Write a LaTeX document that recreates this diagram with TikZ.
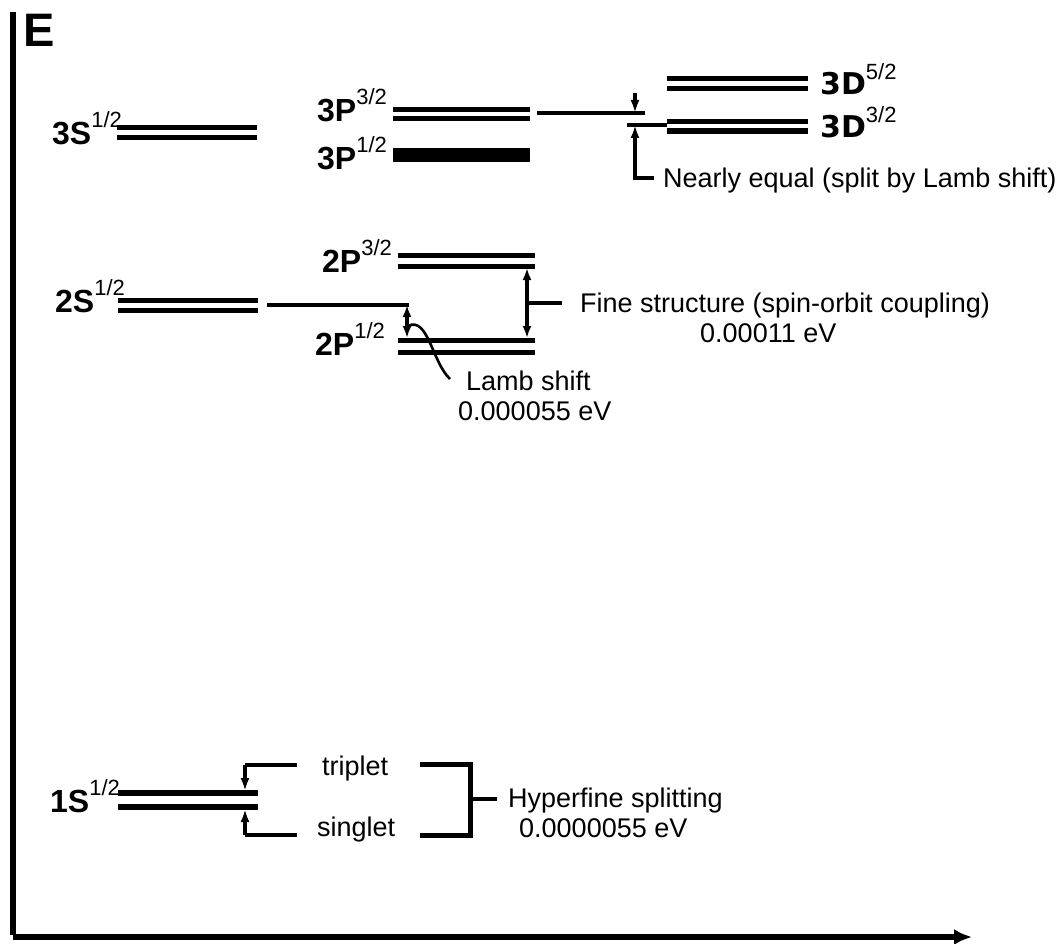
\documentclass[tikz,border=0pt]{standalone}
\usepackage{fontspec}
\setmainfont{Liberation Sans}
\newfontfamily\djsans{DejaVu Sans}
\usetikzlibrary{arrows.meta}
\newcommand\levlab[2]{{\fontsize{32}{32}\selectfont\bfseries #1}\raisebox{17pt}{\fontsize{22}{22}\selectfont #2}}
\newcommand\dlevlab[2]{{\djsans\fontsize{30}{30}\selectfont\bfseries #1}\raisebox{15pt}{\fontsize{22}{22}\selectfont #2}}
\begin{document}
\begin{tikzpicture}[x=1pt,y=-1pt,
  level/.style={line width=5pt},
  conn/.style={line width=3.8pt},
  thin conn/.style={line width=3.2pt},
  tip/.style={-{Latex[length=13pt,width=9pt]}},
  bitip/.style={{Latex[length=12pt,width=9pt]}-{Latex[length=12pt,width=9pt]}},
  lbl/.style={font=\fontsize{27}{30}\selectfont, inner sep=0pt, anchor=base west},
  slbl/.style={inner sep=0pt, anchor=base west}]
\useasboundingbox (0,0) rectangle (1062,944);
% axes
\coordinate (ytop) at (13,12);
\coordinate (orig) at (13,937);
\coordinate (xend) at (972,937);
\draw[line width=5.5pt] (ytop) -- ([yshift=2.5pt]orig);
\draw[line width=5.5pt,-{Latex[length=18pt,width=16pt]}] (orig) -- (xend);
\node[slbl] (E) at (23,47) {\fontsize{47}{47}\selectfont\bfseries E};
% ---- n = 3 ----
\node[slbl] (l3S) at (52,145) {\levlab{3S}{1/2}};
\coordinate (s3a) at (117,128); \coordinate (s3b) at (257,128);
\coordinate (s3c) at (117,138); \coordinate (s3d) at (257,138);
\draw[level] (s3a) -- (s3b); \draw[level] (s3c) -- (s3d);

\node[slbl] (l3P3) at (317,122) {\levlab{3P}{3/2}};
\coordinate (p33a) at (393,110); \coordinate (p33b) at (530,110);
\coordinate (p33c) at (393,119); \coordinate (p33d) at (530,119);
\draw[level] (p33a) -- (p33b); \draw[level] (p33c) -- (p33d);

\node[slbl] (l3P1) at (317,170) {\levlab{3P}{1/2}};
\coordinate (p31a) at (393,155); \coordinate (p31b) at (530,155);
\draw[line width=14pt] (p31a) -- (p31b);

\node[slbl] (l3D5) at (820,95) {\dlevlab{3D}{5/2}};
\coordinate (d35a) at (667,79); \coordinate (d35b) at (808,79);
\coordinate (d35c) at (667,89); \coordinate (d35d) at (808,89);
\draw[level] (d35a) -- (d35b); \draw[level] (d35c) -- (d35d);

\node[slbl] (l3D3) at (820,138) {\dlevlab{3D}{3/2}};
\coordinate (d33a) at (667,122); \coordinate (d33b) at (808,122);
\coordinate (d33c) at (667,131); \coordinate (d33d) at (808,131);
\draw[level] (d33a) -- (d33b); \draw[level,line width=6.5pt] (d33c) -- (d33d);

% nearly equal bracket
\coordinate (ne0) at (537,113); \coordinate (ne1) at (645,113);
\coordinate (neTop) at (635,93); \coordinate (neMid) at (635,113);
\coordinate (neT1) at (627,125); \coordinate (neT2) at (667,125);
\coordinate (neBot) at (635,178); \coordinate (neEnd) at (652,178);
\draw[thin conn] (ne0) -- (ne1);
\draw[thin conn,tip] (neTop) -- (neMid);
\draw[thin conn] (neT1) -- (neT2);
\draw[conn,tip] (neBot) -- (neT1 -| neBot);
\draw[conn,line cap=rect] (neBot) -- (neEnd);
\node[lbl] (neq) at (663,188) {Nearly equal (split by Lamb shift)};

% ---- n = 2 ----
\node[slbl] (l2S) at (55,312) {\levlab{2S}{1/2}};
\coordinate (s2a) at (118,300); \coordinate (s2b) at (258,300);
\coordinate (s2c) at (118,310); \coordinate (s2d) at (258,310);
\draw[level] (s2a) -- (s2b); \draw[level] (s2c) -- (s2d);

\node[slbl] (l2P3) at (322,272) {\levlab{2P}{3/2}};
\coordinate (p23a) at (398,255); \coordinate (p23b) at (535,255);
\coordinate (p23c) at (398,266); \coordinate (p23d) at (535,266);
\draw[level] (p23a) -- (p23b); \draw[level] (p23c) -- (p23d);

\node[slbl] (l2P1) at (315,355) {\levlab{2P}{1/2}};
\coordinate (p21a) at (398,340); \coordinate (p21b) at (535,340);
\coordinate (p21c) at (398,352); \coordinate (p21d) at (535,352);
\draw[level] (p21a) -- (p21b); \draw[level] (p21c) -- (p21d);

% Lamb shift
\coordinate (ls0) at (267,305); \coordinate (ls1) at (409,305);
\coordinate (lsT) at (407,305); \coordinate (lsB) at (407,338);
\draw[thin conn] (ls0) -- (ls1);
\draw[conn,bitip] (lsT) -- (lsB);
\coordinate (lc0) at (408,326); \coordinate (lc1) at (450,379);
\draw[line width=2.6pt] (lc0) .. controls (428,316) and (432,362) .. (lc1);
\node[lbl] (lamb) at (466,390) {Lamb shift};
\node[lbl] (lambv) at (458,420) {0.000055 eV};

% fine structure
\coordinate (fsT) at (527,268); \coordinate (fsB) at (527,338);
\coordinate (fsM) at (527,303); \coordinate (fsE) at (562,303);
\draw[conn,bitip] (fsT) -- (fsB);
\draw[thin conn] (fsM) -- (fsE);
\node[lbl] (fine) at (580,312) {Fine structure (spin-orbit coupling)};
\node[lbl] (finev) at (700,342) {0.00011 eV};

% ---- n = 1 ----
\node[slbl] (l1S) at (50,812) {\levlab{1S}{1/2}};
\coordinate (s1a) at (118,793); \coordinate (s1b) at (258,793);
\coordinate (s1c) at (118,807); \coordinate (s1d) at (258,807);
\draw[line width=6pt] (s1a) -- (s1b); \draw[line width=6pt] (s1c) -- (s1d);

\coordinate (hT) at (245,765); \coordinate (hTe) at (297,765);
\coordinate (hB) at (245,835); \coordinate (hBe) at (297,835);
\draw[conn] (hTe) -- (hT);
\draw[conn,tip] (hT) -- (245,791);
\draw[conn] (hBe) -- (hB);
\draw[conn,tip] (hB) -- (245,809);
\node[lbl] (trip) at (322,775) {triplet};
\node[lbl] (sing) at (317,836) {singlet};

\coordinate (bT) at (420,764); \coordinate (bTc) at (470,764);
\coordinate (bB) at (420,835); \coordinate (bBc) at (470,835);
\coordinate (bM) at (470,799); \coordinate (bMe) at (497,799);
\draw[line width=5pt,line join=miter] (bT) -- (bTc) -- (bBc) -- (bB);
\draw[conn] (bM) -- (bMe);
\node[lbl] (hyp) at (508,807) {Hyperfine splitting};
\node[lbl] (hypv) at (519,837) {0.0000055 eV};
\end{tikzpicture}
\end{document}
